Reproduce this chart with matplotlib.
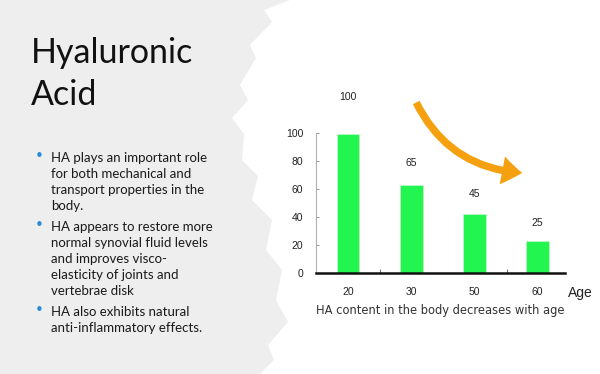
import matplotlib.pyplot as plt
from matplotlib.patches import Polygon, FancyArrowPatch

ages = ["20", "30", "50", "60"]
ha_content = [99, 63, 42, 23]
value_labels = ["100", "65", "45", "25"]
y_ticks = [0, 20, 40, 60, 80, 100]

title_lines = ["Hyaluronic", "Acid"]
bullets = [
    ["HA plays an important role", "for both mechanical and",
     "transport properties in the", "body."],
    ["HA appears to restore more", "normal synovial fluid levels",
     "and improves visco-", "elasticity of joints and", "vertebrae disk"],
    ["HA also exhibits natural", "anti-inflammatory effects."],
]

W, H = 600, 374
fig = plt.figure(figsize=(6, 3.74), dpi=100)
fig.patch.set_facecolor("#efeeef")

# white brushy area on the right
edge = [(290, 0), (264, 10), (272, 22), (250, 45), (256, 58), (240, 85), (248, 100),
        (232, 118), (244, 134), (242, 160), (258, 176), (252, 200), (272, 220),
        (266, 250), (282, 270), (276, 300), (288, 322), (268, 345), (274, 360),
        (260, 374), (600, 374), (600, 0)]
fig.patches.append(Polygon([(x / W, 1 - y / H) for x, y in edge], closed=True,
                           transform=fig.transFigure, facecolor="white",
                           edgecolor="none", zorder=-5))

# slide text
for i, line in enumerate(title_lines):
    fig.text(31 / W, 1 - (63 + 42 * i) / H, line, fontsize=24.5, family="Lato",
             fontweight="normal", color="#111111")

y = 162
for block in bullets:
    fig.text(39 / W, 1 - (y - 1) / H, "\u2022", fontsize=11, color="#2a8ad4",
             ha="center", va="baseline")
    for line in block:
        fig.text(51 / W, 1 - y / H, line, fontsize=9.5, family="Lato",
                 color="#1a1a1a", va="baseline")
        y += 16
    y += 5

# chart
ax = fig.add_axes([316 / W, 1 - 273 / H, 249 / W, 140 / H])
ax.set_facecolor("none")
x = list(range(len(ages)))
ax.bar(x, ha_content, width=0.36, color="#22f550", edgecolor="#c8f5d0", linewidth=0.5)
ax.set_xlim(-0.51, 3.44)
ax.set_ylim(0, 100)

label_offsets = [23, 12, 11, 9]
for xi, v, lab, off in zip(x, ha_content, value_labels, label_offsets):
    ax.annotate(lab, (xi, v), xytext=(0, off), textcoords="offset points",
                ha="center", va="bottom", fontsize=7.5, family="Liberation Sans",
                color="#222222", annotation_clip=False)

for s in ["top", "right"]:
    ax.spines[s].set_visible(False)
ax.spines["left"].set_color("#b0b0b0")
ax.spines["left"].set_linewidth(0.8)
ax.spines["bottom"].set_color("#111111")
ax.spines["bottom"].set_linewidth(1.8)

ax.set_yticks(y_ticks)
ax.set_yticklabels([str(t) for t in y_ticks], fontsize=7.5, family="Liberation Sans",
                   color="#222222")
ax.tick_params(axis="y", direction="in", length=2, width=0.6, color="#888888", pad=9)
ax.set_xticks(x)
ax.set_xticklabels(ages, fontsize=7.5, family="Liberation Sans", color="#222222")
ax.tick_params(axis="x", length=0, pad=10)
ax.set_xticks([0.51, 2.52], minor=True)
ax.tick_params(axis="x", which="minor", direction="in", length=3, width=0.6, color="#555555")

fig.text(568 / W, 1 - 297 / H, "Age", fontsize=10, family="Liberation Sans",
         color="#222222", va="baseline")
fig.text(440 / W, 1 - 314 / H, "HA content in the body decreases with age", fontsize=8.3,
         family="DejaVu Sans", color="#333333", ha="center", va="baseline")

# orange trend arrow
arrow = FancyArrowPatch((415 / W, 1 - 100 / H), (525 / W, 1 - 173 / H),
                        transform=fig.transFigure, connectionstyle="arc3,rad=0.3",
                        arrowstyle="simple,head_width=1.7,head_length=1.2,tail_width=0.45",
                        mutation_scale=12, color="#f5a10f", linewidth=0)
fig.patches.append(arrow)

fig.savefig("out.png", dpi=100)
